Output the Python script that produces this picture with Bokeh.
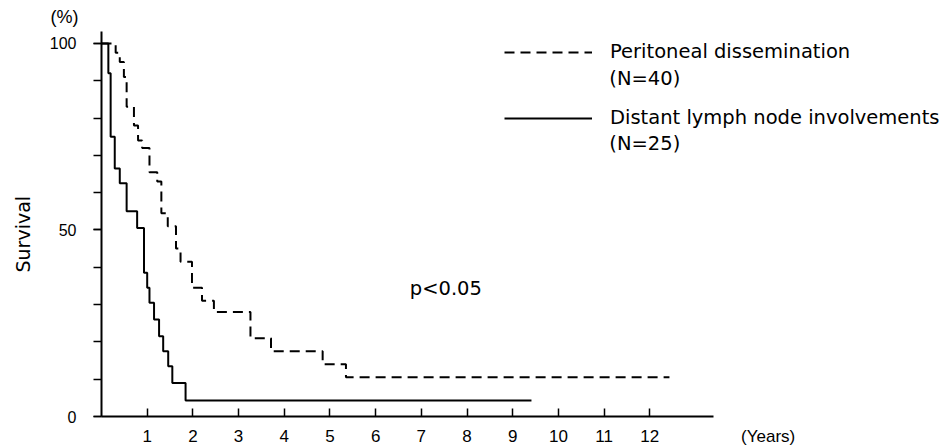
from bokeh.plotting import figure
from bokeh.models import (ColumnDataSource, FixedTicker, Label, Legend, LegendItem,
                          LinearAxis, Range1d, Title)
from bokeh.embed import file_html
from bokeh.resources import INLINE

# ---- data ----
perit_t = [0.0, 0.31, 0.40, 0.49, 0.55, 0.71, 0.80, 0.89, 1.05, 1.22, 1.31, 1.45,
           1.63, 1.73, 1.98, 2.20, 2.46, 3.26, 3.71, 4.84, 5.35]
perit_s = [100, 97.5, 95, 91, 83, 78, 74, 72, 65.5, 63, 54.5, 51,
           45, 41.5, 34.5, 31, 28, 21, 17.5, 14, 10.5]
perit_end = 12.43

dist_t = [0.0, 0.15, 0.20, 0.29, 0.40, 0.55, 0.78, 0.93, 1.00, 1.05, 1.15, 1.26,
          1.35, 1.46, 1.55, 1.84]
dist_s = [100, 92, 75, 66.5, 62.5, 55, 50.5, 38.5, 34.5, 30.5, 26, 21.5,
          17.5, 13.5, 9, 4.3]
dist_end = 9.41

x_ticks = list(range(1, 13))
x_unit_pos = 14.59
x_unit_label = "(Years)"
y_minor_ticks = list(range(0, 101, 10))
y_major_ticks = [0, 50, 100]

label_perit = "Peritoneal dissemination"
label_perit_n = "(N=40)"
label_dist = "Distant lymph node involvements"
label_dist_n = "(N=25)"
p_text = "p<0.05"

# ---- layout ----
W, H = 950, 448
LEFT, BOTTOM, TOP = 99, 30, 30
PX_PER_YEAR = 45.8
PX_PER_PCT = 3.75

p = figure(width=W, height=H, output_backend="svg", toolbar_location=None,
           x_range=Range1d(0, (W - LEFT) / PX_PER_YEAR),
           y_range=Range1d(0, (H - BOTTOM - TOP) / PX_PER_PCT),
           min_border_left=LEFT, min_border_right=0, min_border_top=TOP,
           min_border_bottom=BOTTOM)
p.outline_line_color = None
p.grid.visible = False
p.background_fill_color = "white"
p.border_fill_color = "white"

# "(%)" as title above the frame, shifted left of the axis
p.title.text = "(%)"
p.title.align = "left"
p.title.offset = -51
p.title.standoff = 8
p.title.text_font = "Liberation Sans"
p.title.text_font_size = "18px"
p.title.text_font_style = "normal"
p.title.text_color = "black"

src_p = ColumnDataSource(dict(t=perit_t + [perit_end], s=perit_s + [perit_s[-1]]))
src_d = ColumnDataSource(dict(t=dist_t + [dist_end], s=dist_s + [dist_s[-1]]))

r1 = p.step("t", "s", source=src_p, mode="after", line_color="black",
            line_width=2, line_dash="10 6")
r2 = p.step("t", "s", source=src_d, mode="after", line_color="black", line_width=2)

# x axis line + inward ticks (drawn as minor ticks, so no labels)
xa = p.xaxis[0]
xa.ticker = FixedTicker(ticks=[], minor_ticks=x_ticks)
xa.bounds = (0, 13.4)
xa.axis_line_width = 2
xa.axis_line_color = "black"
xa.major_tick_line_color = None
xa.minor_tick_in = 8
xa.minor_tick_out = 0
xa.minor_tick_line_width = 1.5
xa.minor_tick_line_color = "black"
xa.major_label_standoff = 0

# x tick labels + unit label
xl = LinearAxis(ticker=FixedTicker(ticks=x_ticks + [x_unit_pos]),
                major_label_overrides={x_unit_pos: x_unit_label},
                axis_line_color=None, major_tick_line_color=None,
                minor_tick_line_color=None, major_tick_in=0, major_tick_out=0,
                major_label_standoff=10, major_label_text_font="Liberation Sans",
                major_label_text_font_size="17px", major_label_text_color="black")
p.add_layout(xl, "below")

# y axis
ya = p.yaxis[0]
ya.ticker = FixedTicker(ticks=y_major_ticks, minor_ticks=y_minor_ticks)
ya.bounds = (0, 103.2)
ya.axis_line_width = 2
ya.axis_line_color = "black"
ya.major_tick_in = 0
ya.major_tick_out = 8
ya.major_tick_line_width = 1.5
ya.major_tick_line_color = "black"
ya.minor_tick_in = 0
ya.minor_tick_out = 8
ya.minor_tick_line_width = 1.5
ya.minor_tick_line_color = "black"
ya.major_label_standoff = 17
ya.major_label_text_font = "Liberation Sans"
ya.major_label_text_font_size = "16px"
ya.major_label_text_color = "black"

p.add_layout(Title(text="Survival", align="left", offset=144, vertical_align="top",
                   standoff=22, text_font="DejaVu Sans", text_font_size="19px",
                   text_font_style="normal", text_color="black"), "left")

def dx(px):
    return (px - LEFT) / PX_PER_YEAR

def dy(py):
    return (H - BOTTOM - py) / PX_PER_PCT

txt = dict(text_font="DejaVu Sans", text_color="black", text_font_size="19.5px",
           text_baseline="middle", text_align="left")

p.add_layout(Label(x=dx(408), y=dy(289), text=p_text, **txt))
p.add_layout(Label(x=dx(608), y=dy(78), text=label_perit_n, **txt))
p.add_layout(Label(x=dx(608), y=dy(143.5), text=label_dist_n, **txt))

legend = Legend(items=[LegendItem(label=label_perit, renderers=[r1]),
                       LegendItem(label=label_dist, renderers=[r2])],
                location=(502 - LEFT, (H - BOTTOM) - (55 - 11 + 22 + 43 + 22)),
                glyph_width=88, glyph_height=22, label_height=22, label_width=10,
                label_standoff=18, spacing=43, padding=0, margin=0,
                border_line_color=None, background_fill_alpha=0,
                label_text_font="DejaVu Sans", label_text_font_size="19.5px",
                label_text_color="black")
p.add_layout(legend, "center")

open("out.html", "w").write(file_html(p, INLINE))
